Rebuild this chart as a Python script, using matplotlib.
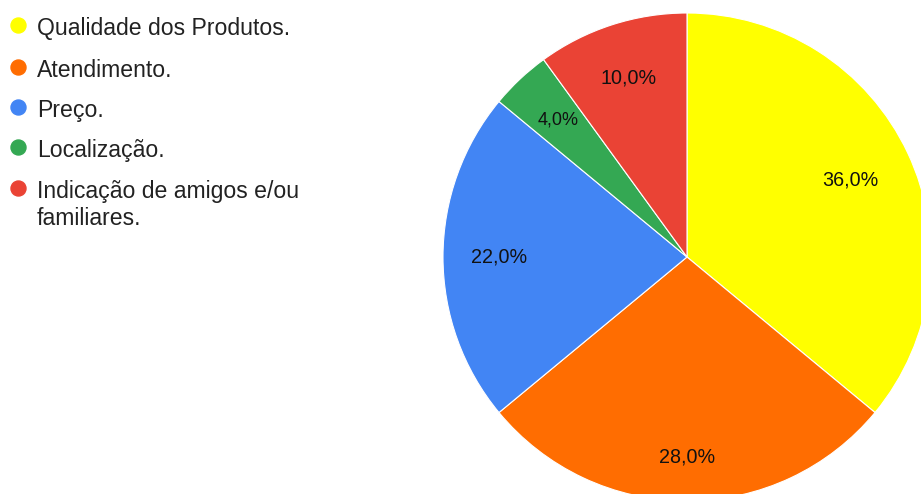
import matplotlib
matplotlib.use("Agg")
import matplotlib.pyplot as plt
import numpy as np

categories = ["Qualidade dos Produtos.", "Atendimento.", "Preço.", "Localização.",
              "Indicação de amigos e/ou\nfamiliares."]
values = [36.0, 28.0, 22.0, 4.0, 10.0]
colors = ["#FFFF00", "#FF6D01", "#4285F4", "#34A853", "#EA4335"]

# label placement (fraction of radius) and font sizes — styling only
label_dist = [0.74, 0.82, 0.77, 0.77, 0.77]
label_size = [14.2, 14.2, 14.2, 13.0, 14.2]

W, H = 921, 494
fig = plt.figure(figsize=(W / 100, H / 100), dpi=100)
fig.patch.set_facecolor("white")

FONT = "Liberation Sans"

# Pie axes (pixel geometry: center 687,257 radius 244)
cx, cy, r = 687, 257, 244
ax = fig.add_axes([(cx - r) / W, (H - (cy + r)) / H, 2 * r / W, 2 * r / H])
wedges, _ = ax.pie(values, colors=colors, startangle=90, counterclock=False,
                   radius=1.0, wedgeprops=dict(edgecolor="white", linewidth=0.8))
for w, v, d, fs in zip(wedges, values, label_dist, label_size):
    w.set_clip_on(False)
    th = np.deg2rad((w.theta1 + w.theta2) / 2)
    ax.text(d * np.cos(th), d * np.sin(th), f"{v:.1f}%".replace(".", ","),
            ha="center", va="center", fontsize=fs, family=FONT, color="#111111")
ax.set_xlim(-1, 1)
ax.set_ylim(-1, 1)
ax.set_aspect("equal")
ax.axis("off")

# Legend in pixel coordinates
lax = fig.add_axes([0, 0, 1, 1])
lax.set_xlim(0, W)
lax.set_ylim(H, 0)
lax.axis("off")
ys = [25, 67, 107, 147, 188]
line_px = 27
for y, lab, c in zip(ys, categories, colors):
    lax.plot([18], [y], marker="o", ms=10.8, color=c, mec=c, clip_on=False)
    extra = lab.count("\n")
    lax.text(37, y + 10 + extra * line_px, lab, ha="left", va="baseline",
             fontsize=16.6, family=FONT, color="#222222",
             linespacing=1.25)

fig.savefig("out.png", dpi=100, facecolor="white")
